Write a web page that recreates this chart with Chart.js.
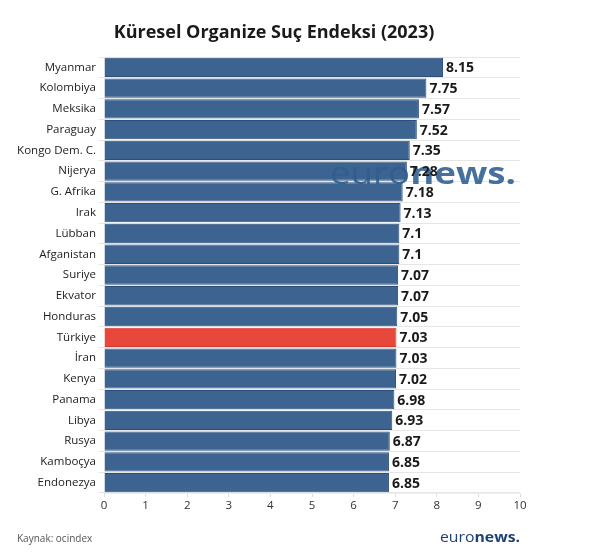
<!DOCTYPE html>
<html>
<head>
<meta charset="utf-8">
<script src="https://cdn.jsdelivr.net/npm/chart.js@4/dist/chart.umd.min.js"></script>
<style>
  html, body { margin: 0; padding: 0; background: #fff; }
  #wrap { width: 600px; height: 552px; position: relative; }
</style>
</head>
<body>
<div id="wrap"><canvas id="bar-chart" width="600" height="552"></canvas></div>
<script>
var countries = ["Myanmar", "Kolombiya", "Meksika", "Paraguay", "Kongo Dem. C.", "Nijerya", "G. Afrika",
    "Irak", "Lübban", "Afganistan", "Suriye", "Ekvator", "Honduras", "Türkiye", "İran", "Kenya",
    "Panama", "Libya", "Rusya", "Kamboçya", "Endonezya"];
var scores = [8.15, 7.75, 7.57, 7.52, 7.35, 7.28, 7.18, 7.13, 7.1, 7.1, 7.07, 7.07, 7.05, 7.03, 7.03,
    7.02, 6.98, 6.93, 6.87, 6.85, 6.85];
var xTicks = [0, 1, 2, 3, 4, 5, 6, 7, 8, 9, 10];
var highlight = "Türkiye";
var title = "Küresel Organize Suç Endeksi (2023)";

var FONT = "'Open Sans', 'Noto Sans', sans-serif";

var barColors = countries.map(function (c) {
    return c === highlight ? "#e8473b" : "#3d6491";
});
var borderColors = countries.map(function (c) {
    return c === highlight ? "#d8372c" : "#2b4f7a";
});

// two-weight "euronews." text squeezed into a given width
function drawLogo(ctx, x, y, size, width, w1, w2) {
    ctx.font = w1 + " " + size + "px " + FONT;
    var a = ctx.measureText("euro").width;
    ctx.font = w2 + " " + size + "px " + FONT;
    var b = ctx.measureText("news.").width;
    var k = width / (a + b);
    ctx.save();
    ctx.translate(x, y);
    ctx.scale(k, 1);
    ctx.font = w1 + " " + size + "px " + FONT;
    ctx.fillText("euro", 0, 0);
    ctx.font = w2 + " " + size + "px " + FONT;
    ctx.fillText("news.", a, 0);
    ctx.restore();
}

// title, value labels, watermark and footer
var extras = {
    id: 'extras',
    afterDatasetsDraw: function (chart) {
        var ctx = chart.ctx;
        ctx.save();
        ctx.globalAlpha = 0.88;
        ctx.fillStyle = "#2d5d90";
        ctx.textBaseline = "alphabetic";
        ctx.textAlign = "left";
        drawLogo(ctx, 330, 184, 31, 186, "500", "bold");
        ctx.restore();

        ctx.save();
        ctx.fillStyle = "#1a1a1a";
        ctx.font = "bold 18px " + FONT;
        ctx.textAlign = "center";
        ctx.textBaseline = "middle";
        ctx.fillText(title, 274, 33);

        var meta = chart.getDatasetMeta(0);
        ctx.font = "bold 14px " + FONT;
        ctx.textAlign = "left";
        meta.data.forEach(function (bar, i) {
            ctx.fillText(String(scores[i]), bar.x + 3, bar.y + 1);
        });

        // footer
        ctx.textBaseline = "alphabetic";
        ctx.font = "10px " + FONT;
        ctx.fillStyle = "#555";
        ctx.fillText("Kaynak: ocindex", 17, 542);
        ctx.fillStyle = "#1f4273";
        drawLogo(ctx, 440, 542, 15, 80, "normal", "bold");
        ctx.restore();
    }
};

new Chart(document.getElementById("bar-chart"), {
    type: 'bar',
    data: {
        labels: countries,
        datasets: [{
            data: scores,
            backgroundColor: barColors,
            borderColor: borderColors,
            borderWidth: 1,
            categoryPercentage: 1,
            barPercentage: 0.93
        }]
    },
    plugins: [extras],
    options: {
        indexAxis: 'y',
        responsive: false,
        animation: false,
        layout: { padding: { left: 10, right: 80, top: 57, bottom: 37 } },
        plugins: {
            legend: { display: false },
            tooltip: { enabled: false },
            title: { display: false }
        },
        scales: {
            x: {
                min: 0,
                max: 10,
                afterBuildTicks: function (scale) {
                    scale.ticks = xTicks.map(function (v) { return { value: v }; });
                },
                afterFit: function (scale) { scale.height = 22; },
                grid: { display: true, drawOnChartArea: false, color: '#dddddd', tickLength: 4 },
                border: { display: true, color: '#eeeeee' },
                ticks: { color: '#333', font: { family: FONT, size: 11.5 }, padding: 2 }
            },
            y: {
                afterFit: function (scale) { scale.width = 94; },
                grid: { color: '#e6e6e6', tickLength: 5 },
                border: { display: false },
                ticks: { color: '#222', font: { family: FONT, size: 11.5 }, padding: 3 }
            }
        }
    }
});
</script>
</body>
</html>
